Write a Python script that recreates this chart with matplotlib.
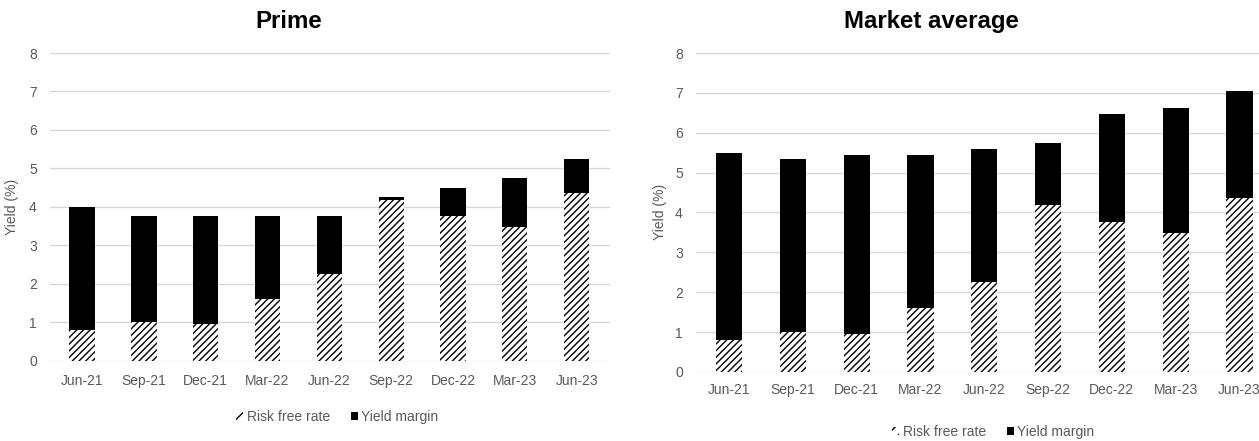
import matplotlib
matplotlib.use("Agg")
import matplotlib.pyplot as plt
from matplotlib.patches import Patch

plt.rcParams["font.family"] = ["Liberation Sans", "DejaVu Sans"]
plt.rcParams["hatch.linewidth"] = 1.0

quarters = ["Jun-21", "Sep-21", "Dec-21", "Mar-22", "Jun-22", "Sep-22", "Dec-22", "Mar-23", "Jun-23"]
risk_free = [0.80, 1.00, 0.95, 1.60, 2.25, 4.18, 3.75, 3.48, 4.37]
prime_total = [4.00, 3.75, 3.75, 3.75, 3.75, 4.25, 4.48, 4.75, 5.25]
market_total = [5.48, 5.33, 5.45, 5.45, 5.60, 5.75, 6.48, 6.63, 7.05]

prime_margin = [t - r for t, r in zip(prime_total, risk_free)]
market_margin = [t - r for t, r in zip(market_total, risk_free)]

GREY = "#595959"
HATCH = "/////"

fig = plt.figure(figsize=(12.59, 4.41), dpi=100)


def draw_panel(rect, margin, title, title_x, ylab_xy, legend_xy, xpad):
    ax = fig.add_axes(rect)
    x = range(len(quarters))
    ax.bar(x, risk_free, width=0.41, color="white", edgecolor="black",
           hatch=HATCH, linewidth=0, zorder=3)
    ax.bar(x, margin, width=0.41, bottom=risk_free, color="black",
           linewidth=0, zorder=3)
    ax.set_xlim(-0.52, 8.54)
    ax.set_ylim(0, 8)
    ax.set_yticks(range(0, 9))
    ax.set_xticks(list(x))
    ax.set_xticklabels(quarters)
    ax.grid(axis="y", color="#d6d6d6", linewidth=0.9, zorder=0)
    for s in ax.spines.values():
        s.set_visible(False)
    ax.tick_params(axis="both", length=0, colors=GREY, labelsize=10)
    ax.tick_params(axis="y", pad=9.5)
    ax.tick_params(axis="x", pad=xpad)
    fig.text(ylab_xy[0], ylab_xy[1], "Yield (%)", rotation=90, ha="center",
             va="center", color=GREY, fontsize=10)
    fig.text(title_x, 0.9365, title, ha="center", va="baseline",
             fontsize=17.3, fontweight="bold")
    handles = [Patch(facecolor="white", edgecolor="black", hatch="///", linewidth=0),
               Patch(facecolor="black", linewidth=0)]
    fig.legend(handles, ["Risk free rate", "Yield margin"], loc="center",
               bbox_to_anchor=legend_xy, ncol=2, frameon=False, fontsize=10,
               handlelength=0.5, handleheight=0.5, handletextpad=0.25,
               columnspacing=1.5, labelcolor=GREY, borderpad=0)
    return ax


draw_panel([0.0397, 0.1821, 0.4448, 0.6977], prime_margin, "Prime", 0.229,
           (0.0095, 0.531), (0.268, 0.0544), 9.5)
draw_panel([0.5528, 0.1565, 0.4591, 0.7233], market_margin, "Market average", 0.740,
           (0.524, 0.519), (0.789, 0.0204), 8)

fig.savefig("out.png", dpi=100)
